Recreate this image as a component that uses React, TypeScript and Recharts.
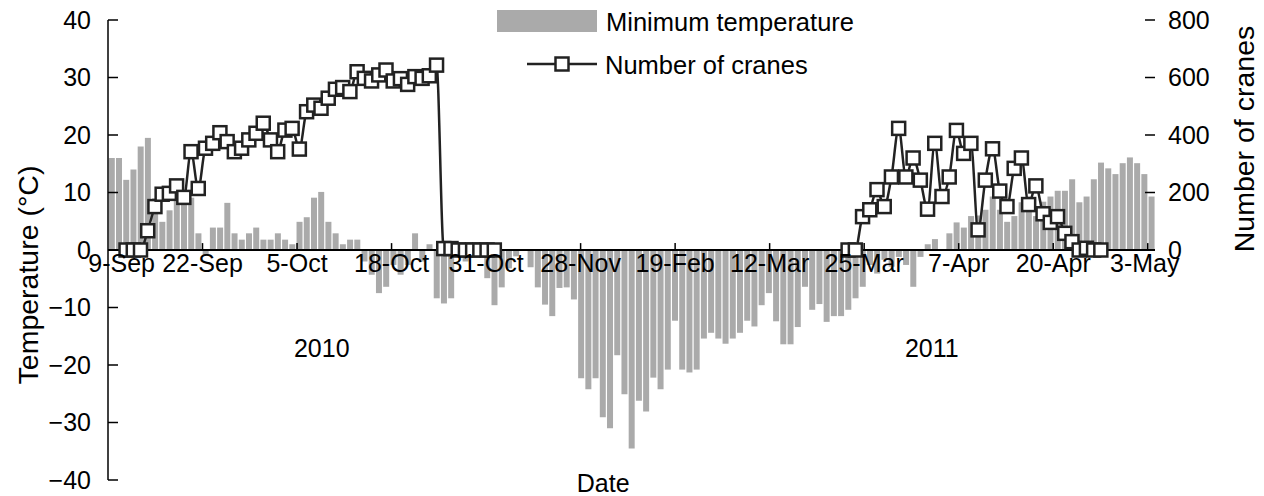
import React from "react";
import {
  ComposedChart,
  Bar,
  Line,
  XAxis,
  YAxis,
  ReferenceLine,
  ReferenceDot,
  Legend,
} from "recharts";

const FONT = "'Liberation Sans', Arial, Helvetica, sans-serif";
const BAR_GREY = "#aaaaaa";
const INK = "#222222";

// minimum temperature (°C), one value per day shown on the axis
const tempAutumn = [
  16, 16, 12.2, 14, 18, 19.5, 9, 4.9, 6.9, 9,
  9, 9.1, 2.9, -0.9, 3.9, 3.9, 8.2, 2.9, 1.8, 2.9,
  3.9, 1.8, 1.8, 2.9, 1.8, 1, 4.9, 5.7, 9.1, 10.1,
  4.9, 2.9, 1, 1.8, 1.8, -2, -4.3, -7.5, -6.4, -2.6,
  -4.3, -2.6, 2.9, -2, 1, -8.4, -9.3, -8.4, 0, -2,
  0, 0, -4.9, -9.6,
];
const tempWinter = [
  -6.5, -3.2, -1.1, 0, -3, -6.5, -9.5, -11.5, -6.6, -6.5,
  -8.6, -22.3, -24.2, -22.3, -29.1, -31, -18.3, -25.1, -34.5, -26.2,
  -28.1, -22.2, -24.2, -20.8, -12.3, -20.8, -21.3, -20.8, -15.4, -14.4,
  -15.4, -16.3, -15.4, -14.4, -12.3, -13.3, -9.6, -7.5, -12.4, -16.4,
  -16.4, -13.4, -6.4, -10.4, -9.4, -12.5, -11.5, -11.5,
];
const tempSpring = [
  -10.4, -8.4, -6.4, -2.6, -4.1, -1.7, -2.9, -1.2, -2.6, -6.4,
  -1.2, 1, 1.9, 0, 2.9, 4.8, 3.9, 5.9, 6, 7,
  9.3, 7, 4.9, 5.9, 8.3, 9.3, 5.9, 8.4, 9.3, 10.3,
  10.3, 12.3, 8.3, 9.3, 12.3, 15.2, 14.2, 13.2, 15.1, 16.1,
  15.1, 13.2, 9.3,
];

// crane counts, autumn run starts on day index 2, spring run on day index 102
const cranesAutumnStart = 2;
const cranesAutumn = [
  0, 0, 0, 67, 151, 194, 197, 223, 183, 342,
  214, 354, 371, 408, 377, 342, 354, 383, 406, 441,
  383, 342, 417, 423, 351, 481, 504, 493, 528, 559,
  565, 551, 620, 597, 588, 609, 626, 588, 596, 576,
  603, 597, 606, 643, 5, 5, 0, 0, 0, 0,
  0, 0,
];
const cranesSpringStart = 102;
const cranesSpring = [
  0, 0, 116, 140, 210, 151, 254, 423, 254, 320,
  243, 142, 371, 186, 254, 416, 336, 371, 70, 243,
  352, 205, 151, 284, 320, 158, 223, 126, 96, 116,
  58, 29, 0, 6, 0, 0,
];

const tickLabels = [
  "9-Sep", "22-Sep", "5-Oct", "18-Oct", "31-Oct", "28-Nov",
  "19-Feb", "12-Mar", "25-Mar", "7-Apr", "20-Apr", "3-May",
];
const tickStep = 13;

const tempTicks = [-40, -30, -20, -10, 0, 10, 20, 30, 40];
const craneTicks = [0, 200, 400, 600, 800];

const temps = [...tempAutumn, ...tempWinter, ...tempSpring];
const data = temps.map((t, i) => {
  let c: number | null = null;
  if (i >= cranesAutumnStart && i < cranesAutumnStart + cranesAutumn.length) {
    c = cranesAutumn[i - cranesAutumnStart];
  } else if (i >= cranesSpringStart && i < cranesSpringStart + cranesSpring.length) {
    c = cranesSpring[i - cranesSpringStart];
  }
  return { day: i, temp: t, cranes: c };
});

const minus = (v: number) => (v < 0 ? `\u2212${-v}` : `${v}`);

const tickStyle = { fontFamily: FONT, fontSize: 25, fill: "#000" };

const SquareDot = (props: any) => {
  const { cx, cy, payload } = props;
  if (cx == null || cy == null || payload == null || payload.cranes == null) return <g />;
  return (
    <rect x={cx - 6.5} y={cy - 6.5} width={13} height={13} fill="#fff" stroke={INK} strokeWidth={2.5} />
  );
};

const LegendBox = () => (
  <svg width={420} height={76} style={{ display: "block" }}>
    <rect x={0} y={2} width={100} height={22} fill={BAR_GREY} />
    <text x={109} y={14} dominantBaseline="central" fontFamily={FONT} fontSize={25.5} fill="#000">
      Minimum temperature
    </text>
    <line x1={30} x2={100} y1={56} y2={56} stroke={INK} strokeWidth={2.5} />
    <rect x={58.5} y={49.5} width={13} height={13} fill="#fff" stroke={INK} strokeWidth={2.5} />
    <text x={108} y={57} dominantBaseline="central" fontFamily={FONT} fontSize={25.5} fill="#000">
      Number of cranes
    </text>
  </svg>
);

const axisTitle = (text: string, dx: number, dy: number) => (props: any) => {
  const vb = props.viewBox || {};
  const cx = vb.x + vb.width / 2 + dx;
  const cy = vb.y + vb.height / 2 + dy;
  return (
    <text
      x={cx}
      y={cy}
      transform={`rotate(-90 ${cx} ${cy})`}
      textAnchor="middle"
      dominantBaseline="central"
      fontFamily={FONT}
      fontSize={28.5}
      fill="#000"
    >
      {text}
    </text>
  );
};

export default function App() {
  return (
    <ComposedChart
      width={1256}
      height={488}
      data={data}
      margin={{ top: 12, right: 0, bottom: 16, left: 0 }}
      barCategoryGap="11%"
    >
      <XAxis xAxisId="c" dataKey="day" type="category" hide />
      <XAxis xAxisId="n" type="number" domain={[0, 145]} hide allowDataOverflow />
      <YAxis
        yAxisId="t"
        orientation="left"
        width={100}
        domain={[-40, 40]}
        ticks={tempTicks}
        tickFormatter={minus}
        tick={tickStyle}
        tickSize={-10}
        tickMargin={27}
        axisLine={{ stroke: "#000", strokeWidth: 1.5 }}
        tickLine={{ stroke: "#000", strokeWidth: 1.5 }}
        interval={0}
        label={axisTitle("Temperature (\u00b0C)", -30, 25)}
      />
      <YAxis
        yAxisId="n"
        orientation="right"
        width={109}
        domain={[-800, 800]}
        ticks={craneTicks}
        tick={tickStyle}
        tickSize={-10}
        tickMargin={23}
        axisLine={false}
        tickLine={{ stroke: "#000", strokeWidth: 1.5 }}
        interval={0}
        label={axisTitle("Number of cranes", 34, -111)}
      />
      <Legend
        content={LegendBox}
        layout="horizontal"
        align="center"
        verticalAlign="middle"
        wrapperStyle={{ top: 0, left: 489, width: 420 }}
      />
      <Bar
        xAxisId="c"
        yAxisId="t"
        dataKey="temp"
        fill={BAR_GREY}
        isAnimationActive={false}
      />
      <ReferenceLine xAxisId="n" yAxisId="t" y={0} stroke="#000" strokeWidth={2} />
      <ReferenceLine
        xAxisId="n"
        yAxisId="n"
        segment={[
          { x: 145, y: 0 },
          { x: 145, y: 800 },
        ]}
        stroke="#000"
        strokeWidth={1.5}
      />
      {tickLabels.map((lab, k) => (
        <ReferenceLine
          key={lab}
          xAxisId="n"
          yAxisId="t"
          segment={[
            { x: k === 0 ? 1.6 : k * tickStep, y: 0 },
            { x: k === 0 ? 1.6 : k * tickStep, y: 1.2 },
          ]}
          stroke={k === 0 ? "none" : "#000"}
          strokeWidth={1.5}
          label={{
            value: lab,
            position: "bottom",
            offset: 4,
            dx: k === 0 ? 2 : k === tickLabels.length - 1 ? -3 : 0,
            ...tickStyle,
          }}
        />
      ))}
      <ReferenceDot
        xAxisId="n"
        yAxisId="t"
        x={29.4}
        y={-17}
        r={0}
        fill="none"
        stroke="none"
        label={{ value: "2010", position: "center", ...tickStyle }}
      />
      <ReferenceDot
        xAxisId="n"
        yAxisId="t"
        x={113.3}
        y={-17}
        r={0}
        fill="none"
        stroke="none"
        label={{ value: "2011", position: "center", ...tickStyle }}
      />
      <ReferenceDot
        xAxisId="n"
        yAxisId="t"
        x={68.1}
        y={-40}
        r={0}
        fill="none"
        stroke="none"
        label={{ value: "Date", position: "center", dy: 3, ...tickStyle }}
      />
      <Line
        xAxisId="c"
        yAxisId="n"
        dataKey="cranes"
        type="monotone"
        stroke={INK}
        strokeWidth={2.5}
        dot={SquareDot}
        activeDot={false}
        connectNulls={false}
        isAnimationActive={false}
      />
    </ComposedChart>
  );
}
